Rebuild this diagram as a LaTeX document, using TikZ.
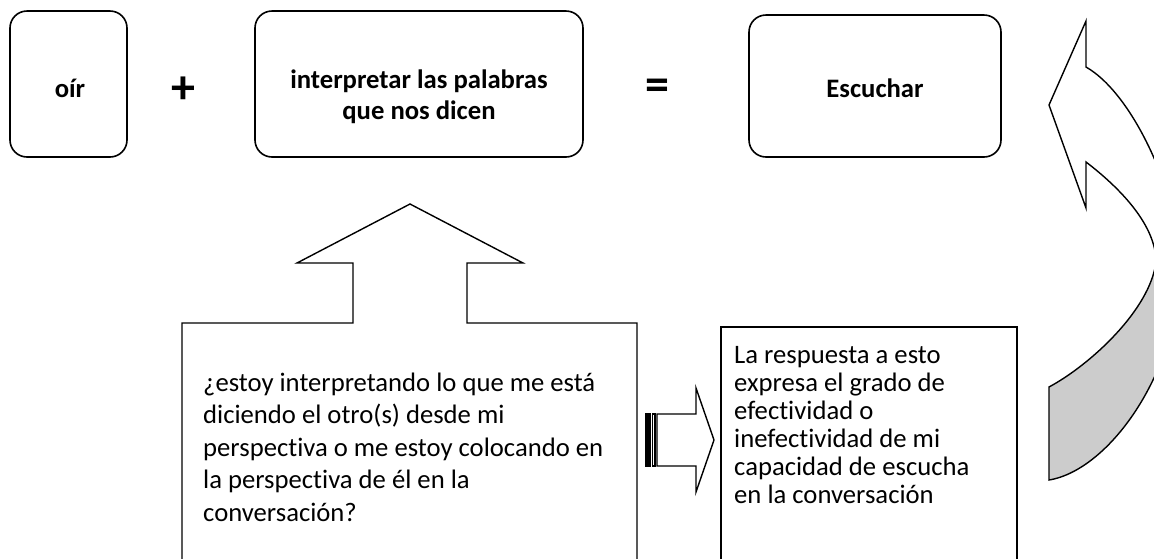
\documentclass[tikz,border=0pt]{standalone}
\usepackage{fontspec}
\setmainfont[Ligatures=NoCommon]{Carlito}
\begin{document}
\begin{tikzpicture}[x=1pt,y=-1pt,
  rbox/.style={draw, line width=1.6pt, rounded corners=17pt, inner sep=0pt},
  btxt/.style={align=center, inner sep=0pt, font=\bfseries\fontsize{26.67}{31}\selectfont},
  op/.style={inner sep=0pt, font=\bfseries\fontsize{48}{48}\selectfont},
  shp/.style={draw, line width=1.4pt, line join=miter},
  ptxt/.style={anchor=base west, inner sep=0pt}]
\useasboundingbox (0,0) rectangle (1154,558);
\clip (0,0) rectangle (1154,558);
% top row
\node[rbox, minimum width=117pt, minimum height=146pt] (oir) at (68.5,84) {};
\node[btxt] (oirt) at (70,88) {oír};
\node[op] (plus) at (183,90) {+};
\node[rbox, minimum width=328pt, minimum height=146pt] (interp) at (419,84) {};
\node[btxt] (interpt) at (419,97) {interpretar las palabras\\que nos dicen};
\node[op] (eq) at (657,90) {=};
\node[rbox, minimum width=252pt, minimum height=142pt] (esc) at (875,86) {};
\node[btxt] (esct) at (875,88) {Escuchar};
% up arrow callout
\path[shp] (182,600) -- (182,323) -- (353,323) -- (353,263) -- (297,263) -- (410,204)
  -- (523,263) -- (467,263) -- (467,323) -- (637,323) -- (637,600);
\node[ptxt] (q) at (203,391) {\parbox[t]{420pt}{\raggedright\fontsize{26.67}{32.5}\selectfont
  ¿estoy interpretando lo que me está\\diciendo el otro(s) desde mi\\perspectiva o me estoy colocando en\\la perspectiva de él en la\\conversación?}};
% striped arrow
\path[draw, line width=1.2pt, fill=black] (646,414) rectangle (650,466);
\path[draw, line width=1.2pt] (652.5,414) rectangle (655,466);
\path[shp] (657,414) -- (696,414) -- (696,388) -- (714,440) -- (696,492) -- (696,466) -- (657,466) -- cycle;
% right box
\path[shp] (721,600) -- (721,327) -- (1017,327) -- (1017,600);
\node[ptxt] (r) at (734,363) {\parbox[t]{280pt}{\raggedright\fontsize{26.67}{28}\selectfont
  La respuesta a esto\\expresa el grado de\\efectividad o\\inefectividad de mi\\capacidad de escucha\\en la conversación}};
% curved arrow
\fill[gray!40] (1049,387) -- (1049,480) .. controls (1110,470) and (1180,370) .. (1180,265)
  -- (1156,262) .. controls (1150,310) and (1090,365) .. (1049,387) -- cycle;
\path[shp] (1156,262) .. controls (1150,310) and (1090,365) .. (1049,387) -- (1049,480)
  .. controls (1110,470) and (1180,370) .. (1180,265);
\path[shp] (1180,265) .. controls (1180,200) and (1135,95) .. (1086,67) -- (1086,21)
  -- (1049,105) -- (1086,208) -- (1086,162) .. controls (1120,188) and (1156,225) .. (1156,262);
\end{tikzpicture}
\end{document}
